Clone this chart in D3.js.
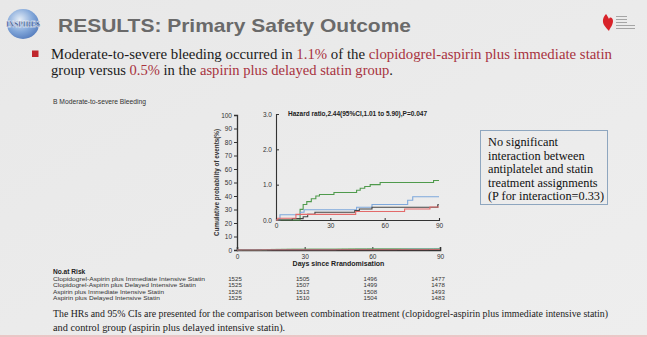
<!DOCTYPE html>
<html><head><meta charset="utf-8">
<script src="https://cdn.jsdelivr.net/npm/d3@7"></script>
<style>
html,body{margin:0;padding:0;background:#ebebeb;}
svg{display:block;}
</style></head>
<body>
<svg id="c" width="647" height="337"></svg>
<script>
// ---------- DATA ----------
const titleText = "RESULTS: Primary Safety Outcome";
const panelTitle = "B Moderate-to-severe Bleeding";
const hazardText = "Hazard ratio,2.44(95%CI,1.01 to 5.90),P=0.047";
const yLabel = "Cumulative probability of events(%)";
const xLabel = "Days since Rrandomisation";
const mainYTicks = [0,10,20,30,40,50,60,70,80,90,100];
const insetYTicks = [0,1,2,3];
const xTicks = [0,30,60,90];
const riskGroups = [
  "Clopidogrel-Aspirin plus Immediate Intensive Statin",
  "Clopidogrel-Aspirin plus Delayed Intensive Statin",
  "Aspirin plus Immediate Intensive Statin",
  "Aspirin plus Delayed Intensive Statin"];
const riskCounts = [
  [1525,1505,1496,1477],
  [1525,1507,1499,1478],
  [1526,1513,1508,1493],
  [1525,1510,1504,1483]];
// step curves (day, cumulative %)
const greenDays = [0,13.3,15,17,19.5,22,24,32,44.5,46.5,49,52,57.5,87,90];
const greenVals = [0,0.30,0.44,0.52,0.60,0.68,0.72,0.78,0.84,0.90,0.95,1.00,1.06,1.12,1.12];
const blueDays  = [0,2.2,13.5,15.5,44.5,53,72.7,75.5,90];
const blueVals  = [0,0.15,0.22,0.29,0.36,0.44,0.56,0.66,0.66];
const blackDays = [0,9,15,17.5,21.5,43.5,46,53,89.3,90];
const blackVals = [0,0.04,0.09,0.16,0.22,0.27,0.31,0.36,0.43,0.43];
const redDays   = [0,1,11,44,71,85,90];
const redVals   = [0,0.05,0.16,0.24,0.31,0.37,0.37];
const seriesColors = ["#4f9a4c","#7ea8dc","#444444","#e36a6a"];
const boxLines = ["No significant","interaction between","antiplatelet and statin","treatment assignments","(P for interaction=0.33)"];
const footLines = ["The HRs and 95% CIs are presented for the comparison between combination treatment (clopidogrel-aspirin plus immediate intensive statin)",
                   "and control group (aspirin plus delayed intensive statin)."];

const series = [
  {days:greenDays, vals:greenVals, color:seriesColors[0]},
  {days:blueDays,  vals:blueVals,  color:seriesColors[1]},
  {days:blackDays, vals:blackVals, color:seriesColors[2]},
  {days:redDays,   vals:redVals,   color:seriesColors[3]}];

// ---------- DRAW ----------
const svg = d3.select("#c");
const defs = svg.append("defs");
const bg = defs.append("linearGradient").attr("id","bg").attr("x1",0).attr("y1",0).attr("x2",1).attr("y2",1);
bg.append("stop").attr("offset","0%").attr("stop-color","#e8e8e8");
bg.append("stop").attr("offset","100%").attr("stop-color","#eeeeee");
svg.append("rect").attr("width",647).attr("height",337).attr("fill","url(#bg)");

// INSPIRES logo
const gl = defs.append("radialGradient").attr("id","globe").attr("cx","40%").attr("cy","35%").attr("r","70%");
gl.append("stop").attr("offset","0%").attr("stop-color","#e3edf9");
gl.append("stop").attr("offset","60%").attr("stop-color","#6e9ad6");
gl.append("stop").attr("offset","100%").attr("stop-color","#3a68b4");
svg.append("ellipse").attr("cx",23).attr("cy",24).attr("rx",16).attr("ry",15).attr("fill","url(#globe)").attr("opacity",0.85);
svg.append("text").attr("x",23).attr("y",27).attr("text-anchor","middle")
  .attr("font-family","Liberation Serif").attr("font-weight","bold").attr("font-size",8)
  .attr("fill","#1d3b7a").attr("stroke","#ffffff").attr("stroke-width",0.3)
  .attr("textLength",34).attr("lengthAdjust","spacingAndGlyphs").text("INSPIRES");

// title
svg.append("text").attr("x",58).attr("y",32).attr("font-family","Liberation Sans, Arial")
  .attr("font-weight","bold").attr("font-size",19).attr("fill","#6a6a6a")
  .attr("textLength",353).attr("lengthAdjust","spacingAndGlyphs").text(titleText);

// AHA logo
svg.append("path").attr("d","M606,14 C603,17 602,21 604,25 C606,28 608,30 609,31 C610,28 613,25 613,21 C613,18 610,16 609,19 C608,17 607,15 606,14 Z").attr("fill","#d8232a");
[16,19,22,25,28].forEach((yy,i)=>{
  svg.append("rect").attr("x",616).attr("y",yy).attr("width",i<3?11:19).attr("height",1).attr("fill","#a5a5a5");
});

// bullet
svg.append("rect").attr("x",32).attr("y",50.5).attr("width",6.5).attr("height",6.5).attr("fill","#c0262d");
const darkRed = "#a8323e";
const l1 = svg.append("text").attr("x",51).attr("y",59).attr("font-family","Liberation Serif, Times New Roman")
  .attr("font-size",14).attr("fill","#1a1a1a").attr("textLength",561).attr("lengthAdjust","spacingAndGlyphs");
l1.append("tspan").text("Moderate-to-severe bleeding occurred in ");
l1.append("tspan").attr("fill",darkRed).text("1.1%");
l1.append("tspan").text(" of the ");
l1.append("tspan").attr("fill",darkRed).text("clopidogrel-aspirin plus immediate statin");
const l2 = svg.append("text").attr("x",51).attr("y",74.5).attr("font-family","Liberation Serif, Times New Roman")
  .attr("font-size",14).attr("fill","#1a1a1a").attr("textLength",342).attr("lengthAdjust","spacingAndGlyphs");
l2.append("tspan").text("group versus ");
l2.append("tspan").attr("fill",darkRed).text("0.5%");
l2.append("tspan").text(" in the ");
l2.append("tspan").attr("fill",darkRed).text("aspirin plus delayed statin group");
l2.append("tspan").text(".");

// panel title
svg.append("text").attr("x",53).attr("y",104).attr("font-family","Liberation Sans, Arial")
  .attr("font-size",6.8).attr("fill","#333").attr("textLength",93).attr("lengthAdjust","spacingAndGlyphs").text(panelTitle);

// ---------- main plot ----------
const x = d3.scaleLinear().domain([0,90]).range([237,440]);
const y = d3.scaleLinear().domain([0,100]).range([250,115]);
const axisColor = "#333";

const gy = svg.append("g").attr("transform",`translate(${x(0)},0)`)
  .call(d3.axisLeft(y).tickValues(mainYTicks).tickSize(3).tickPadding(2).tickFormat(d3.format("d")));
const gx = svg.append("g").attr("transform",`translate(0,${y(0)})`)
  .call(d3.axisBottom(x).tickValues(xTicks).tickSize(-3).tickPadding(4));
[gy,gx].forEach(g=>{
  g.select(".domain").attr("stroke",axisColor).attr("stroke-width",1.3);
  g.selectAll(".tick line").attr("stroke",axisColor);
  g.selectAll("text").attr("font-family","Liberation Sans, Arial").attr("font-size",6.5).attr("fill","#333");
});
gx.select(".domain").attr("stroke-width",1.6);

const lineMain = d3.line().curve(d3.curveStepAfter).x(d=>x(d[0])).y(d=>y(d[1]));
series.forEach(s=>{
  svg.append("path").attr("d",lineMain(s.days.map((d,i)=>[d,s.vals[i]])))
    .attr("fill","none").attr("stroke",s.color).attr("stroke-width",1).attr("opacity",0.7);
});

svg.append("text").attr("transform",`translate(219,${y(50)}) rotate(-90)`).attr("text-anchor","middle")
  .attr("font-family","Liberation Sans, Arial").attr("font-weight","bold").attr("font-size",6.3)
  .attr("fill","#333").text(yLabel);
svg.append("text").attr("x",x(45)).attr("y",266).attr("text-anchor","middle")
  .attr("font-family","Liberation Sans, Arial").attr("font-weight","bold").attr("font-size",7)
  .attr("fill","#222").text(xLabel);

// ---------- inset ----------
const xi = d3.scaleLinear().domain([0,90]).range([276,439]);
const yi = d3.scaleLinear().domain([0,3]).range([220,114]);
const giy = svg.append("g").attr("transform",`translate(${xi(0)},0)`)
  .call(d3.axisLeft(yi).tickValues(insetYTicks).tickSize(-3).tickPadding(4).tickFormat(d3.format(".1f")));
const gix = svg.append("g").attr("transform",`translate(0,${yi(0)})`)
  .call(d3.axisBottom(xi).tickValues(xTicks).tickSize(-2).tickPadding(3));
[giy,gix].forEach(g=>{
  g.select(".domain").attr("stroke",axisColor).attr("stroke-width",1.1);
  g.selectAll(".tick line").attr("stroke",axisColor);
  g.selectAll("text").attr("font-family","Liberation Sans, Arial").attr("font-size",6.5).attr("fill","#333");
});
const lineIn = d3.line().curve(d3.curveStepAfter).x(d=>xi(d[0])).y(d=>yi(d[1]));
series.forEach(s=>{
  svg.append("path").attr("d",lineIn(s.days.map((d,i)=>[d,s.vals[i]])))
    .attr("fill","none").attr("stroke",s.color).attr("stroke-width",1.1);
});
svg.append("text").attr("x",288).attr("y",116).attr("font-family","Liberation Sans, Arial")
  .attr("font-weight","bold").attr("font-size",6.3).attr("fill","#222")
  .attr("textLength",139).attr("lengthAdjust","spacingAndGlyphs").text(hazardText);

// ---------- box ----------
svg.append("rect").attr("x",480.5).attr("y",130.5).attr("width",127).attr("height",74)
  .attr("fill","none").attr("stroke","#8ea6bf").attr("stroke-width",1);
svg.append("g").selectAll("text").data(boxLines).join("text")
  .attr("x",488).attr("y",(d,i)=>146+i*13.6)
  .attr("font-family","Liberation Serif, Times New Roman").attr("font-size",12.3).attr("fill","#111")
  .text(d=>d);

// ---------- risk table ----------
svg.append("text").attr("x",53).attr("y",274).attr("font-family","Liberation Sans, Arial")
  .attr("font-weight","bold").attr("font-size",6.6).attr("fill","#222").text("No.at Risk");
const rowY = i => 281 + i*6.3;
svg.append("g").selectAll("text").data(riskGroups).join("text")
  .attr("x",53).attr("y",(d,i)=>rowY(i)).attr("font-family","Liberation Sans, Arial")
  .attr("font-size",6.1).attr("fill","#333")
  .attr("textLength",(d,i)=>[152,143,111,107][i]).attr("lengthAdjust","spacingAndGlyphs").text(d=>d);
riskCounts.forEach((row,i)=>{
  svg.append("g").selectAll("text").data(row).join("text")
    .attr("x",(d,j)=>x(xTicks[j])-2).attr("y",rowY(i)).attr("text-anchor","middle")
    .attr("font-family","Liberation Sans, Arial").attr("font-size",6.1).attr("fill","#333").text(d=>d);
});

// ---------- footnote ----------
svg.append("g").selectAll("text").data(footLines).join("text")
  .attr("x",53).attr("y",(d,i)=>317+i*14)
  .attr("font-family","Liberation Serif, Times New Roman").attr("font-size",10.3).attr("fill","#222")
  .attr("textLength",(d,i)=>i===0?555:null).attr("lengthAdjust","spacingAndGlyphs")
  .text(d=>d);
svg.append("line").attr("x1",0).attr("x2",647).attr("y1",336).attr("y2",336).attr("stroke","#e8a0a0").attr("stroke-width",1);
</script>
</body></html>
